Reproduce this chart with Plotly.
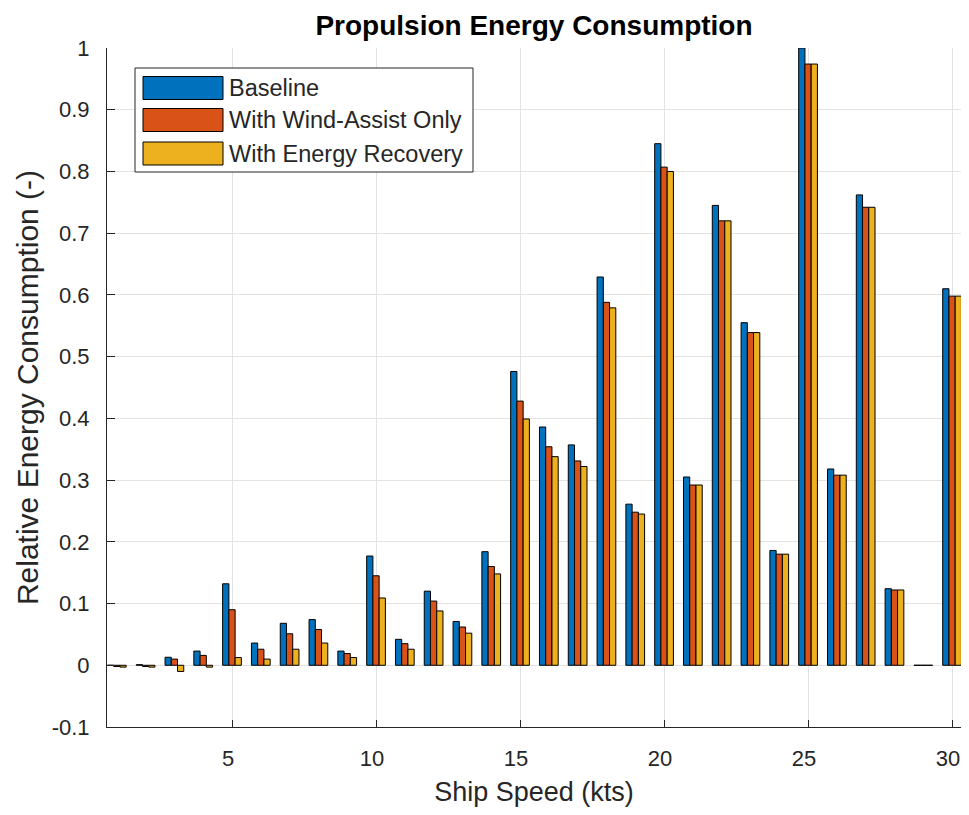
import plotly.graph_objects as go

# ---- data ----
speeds = list(range(1, 31))
baseline = [0.0, 0.001, 0.013, 0.023, 0.132, 0.036, 0.068, 0.074, 0.023, 0.177,
            0.042, 0.120, 0.071, 0.184, 0.476, 0.386, 0.357, 0.629, 0.261, 0.845,
            0.305, 0.745, 0.555, 0.186, 1.000, 0.318, 0.762, 0.124, 0.0, 0.610]
wind_assist = [-0.002, -0.002, 0.010, 0.016, 0.090, 0.026, 0.051, 0.058, 0.019, 0.145,
               0.035, 0.104, 0.062, 0.160, 0.428, 0.354, 0.331, 0.588, 0.248, 0.807,
               0.292, 0.720, 0.539, 0.180, 0.974, 0.308, 0.742, 0.122, 0.0, 0.598]
energy_recovery = [-0.003, -0.003, -0.010, -0.003, 0.0125, 0.010, 0.026, 0.036, 0.0125, 0.109,
                   0.026, 0.088, 0.052, 0.148, 0.399, 0.338, 0.322, 0.579, 0.245, 0.800,
                   0.292, 0.720, 0.539, 0.180, 0.974, 0.308, 0.742, 0.122, 0.0, 0.598]
series_names = ["Baseline", "With Wind-Assist Only", "With Energy Recovery"]
series_colors = ["#0072BD", "#D95319", "#EDB120"]
x_tickvals = [5, 10, 15, 20, 25, 30]
y_tickvals = [-0.1, 0, 0.1, 0.2, 0.3, 0.4, 0.5, 0.6, 0.7, 0.8, 0.9, 1]
y_ticktext = ["-0.1", "0", "0.1", "0.2", "0.3", "0.4", "0.5", "0.6", "0.7", "0.8", "0.9", "1"]

# page body has an 8px default margin on every side; size the figure to fit inside it
OFF = 8
W, H = 969 - 2 * OFF, 815 - 2 * OFF
ML, MR, MT = 107 - OFF, 0, 48 - OFF
PW, PH = W - ML - MR, 727 - 48
MB = H - MT - PH
FONT = "Liberation Sans, Arial, Helvetica, sans-serif"
AX = "#262626"

fig = go.Figure()
for name, vals, col in zip(series_names, [baseline, wind_assist, energy_recovery], series_colors):
    fig.add_trace(go.Bar(x=speeds, y=vals, name=name,
                         marker=dict(color=col, line=dict(color="black", width=1)),
                         showlegend=False))

# custom MATLAB-like legend (box + wide swatches + text); arguments are page pixels
def px2x(p):
    return (p - OFF - ML) / PW

def py2y(p):
    return 1 - (p - OFF - MT) / PH

shapes = [dict(type="rect", xref="paper", yref="paper",
               x0=px2x(135), x1=px2x(473), y0=py2y(172), y1=py2y(68),
               line=dict(color=AX, width=1), fillcolor="white", layer="above")]
annotations = []
row_centers = [88, 120, 153.5]
for name, col, cy in zip(series_names, series_colors, row_centers):
    shapes.append(dict(type="rect", xref="paper", yref="paper",
                       x0=px2x(143), x1=px2x(223), y0=py2y(cy + 11.5), y1=py2y(cy - 11.5),
                       line=dict(color="black", width=1), fillcolor=col, layer="above"))
    annotations.append(dict(xref="paper", yref="paper", x=px2x(227), y=py2y(cy),
                            xanchor="left", yanchor="middle", text=name, showarrow=False,
                            font=dict(family=FONT, size=23.5, color=AX)))

fig.update_layout(
    width=W, height=H,
    margin=dict(l=ML, r=MR, t=MT, b=MB, autoexpand=False),
    paper_bgcolor="white", plot_bgcolor="white",
    barmode="group", bargap=0.35, bargroupgap=0,
    title=dict(text="<b>Propulsion Energy Consumption</b>", x=0.5, xref="paper",
               y=1 - (25 - OFF) / H, yref="container", xanchor="center", yanchor="middle",
               font=dict(family=FONT, size=28, color="black")),
    font=dict(family=FONT, color=AX),
    shapes=shapes, annotations=annotations,
)
fig.update_xaxes(range=[0.66, 30.31], tickvals=x_tickvals, ticks="inside", ticklen=7,
                 tickcolor=AX, showline=True, linecolor=AX, linewidth=1, mirror=False,
                 showgrid=True, gridcolor="#e3e3e3", gridwidth=1, zeroline=False,
                 automargin=False, ticklabeloverflow="allow",
                 tickfont=dict(family=FONT, size=22, color=AX), ticklabelstandoff=12,
                 ticklabelshift=-4,
                 title=dict(text="Ship Speed (kts)", font=dict(family=FONT, size=27, color=AX),
                            standoff=20))
fig.update_yaxes(range=[-0.1, 1], tickvals=y_tickvals, ticktext=y_ticktext, ticks="inside",
                 ticklen=8, tickcolor=AX, showline=True, linecolor=AX, linewidth=1, mirror=False,
                 showgrid=True, gridcolor="#e3e3e3", gridwidth=1, zeroline=False,
                 automargin=False,
                 tickfont=dict(family=FONT, size=22, color=AX), ticklabelstandoff=12,
                 title=dict(text="Relative Energy Consumption (-)",
                            font=dict(family=FONT, size=30, color=AX), standoff=4))

fig.write_html("out.html")
